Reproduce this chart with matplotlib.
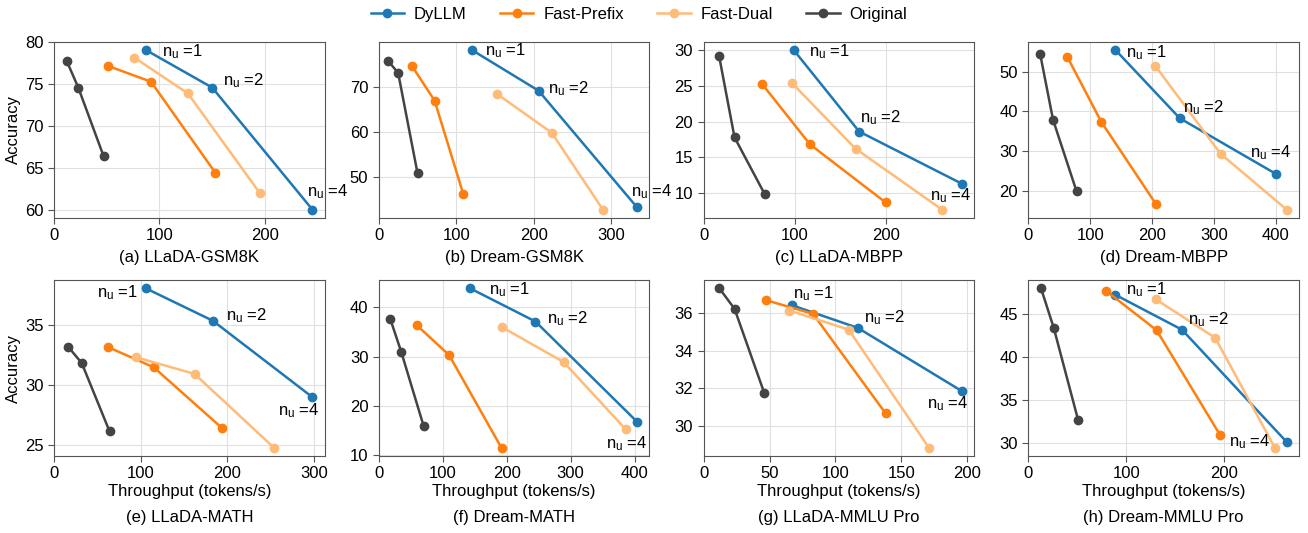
import matplotlib
matplotlib.use('Agg')
import matplotlib.pyplot as plt

plt.rcParams['font.family'] = ['Liberation Sans', 'DejaVu Sans']
plt.rcParams['mathtext.fontset'] = 'custom'
plt.rcParams['mathtext.rm'] = 'Liberation Sans'
plt.rcParams['mathtext.default'] = 'regular'

methods = ['DyLLM', 'Fast-Prefix', 'Fast-Dual', 'Original']
colors = {'DyLLM': '#1f77b4', 'Fast-Prefix': '#ff7f0e', 'Fast-Dual': '#ffbb78', 'Original': '#444444'}
titles = ['(a) LLaDA-GSM8K', '(b) Dream-GSM8K', '(c) LLaDA-MBPP', '(d) Dream-MBPP',
          '(e) LLaDA-MATH', '(f) Dream-MATH', '(g) LLaDA-MMLU Pro', '(h) Dream-MMLU Pro']
nu_labels = ['1', '2', '4']

# throughput (tokens/s) per panel, per method
thr_dyllm = [[87, 150, 245], [120, 206, 333], [99, 171, 284], [141, 245, 400],
             [106, 183, 298], [143, 245, 404], [67, 117, 196], [89, 157, 264]]
acc_dyllm = [[79.1, 74.6, 60.0], [78.1, 69.1, 43.3], [30.0, 18.6, 11.3], [55.4, 38.3, 24.4],
             [38.1, 35.4, 29.0], [43.8, 37.1, 16.8], [36.44, 35.23, 31.85], [47.2, 43.15, 30.1]]
thr_prefix = [[51, 92, 153], [43, 72, 109], [64, 117, 200], [63, 118, 206],
              [62, 115, 194], [59, 110, 192], [47, 83, 138], [79, 131, 196]]
acc_prefix = [[77.2, 75.3, 64.4], [74.5, 66.9, 46.2], [25.3, 16.8, 8.7], [53.7, 37.4, 16.9],
              [33.2, 31.5, 26.4], [36.4, 30.3, 11.5], [36.72, 35.98, 30.67], [47.7, 43.1, 30.9]]
thr_dual = [[76, 127, 195], [153, 223, 289], [97, 167, 262], [205, 311, 418],
            [94, 162, 254], [192, 289, 386], [65, 110, 171], [130, 191, 252]]
acc_dual = [[78.2, 73.9, 62.0], [68.3, 59.8, 42.8], [25.4, 16.2, 7.7], [51.5, 29.4, 15.4],
            [32.35, 30.95, 24.75], [36.0, 28.9, 15.3], [36.16, 35.14, 28.82], [46.7, 42.2, 29.4]]
thr_orig = [[12, 23, 47], [12.5, 25, 50], [17, 34, 67], [19, 40, 78],
            [16.5, 32, 64], [18, 35, 70], [12, 23.5, 46], [13, 26, 51]]
acc_orig = [[77.8, 74.6, 66.4], [75.6, 73.0, 50.8], [29.2, 17.8, 9.9], [54.5, 37.9, 20.0],
            [33.2, 31.85, 26.15], [37.6, 31.0, 16.0], [37.34, 36.25, 31.76], [47.95, 43.35, 32.6]]

series = {'DyLLM': (thr_dyllm, acc_dyllm), 'Fast-Prefix': (thr_prefix, acc_prefix),
          'Fast-Dual': (thr_dual, acc_dual), 'Original': (thr_orig, acc_orig)}

# label offsets in pixels (dx, dy) for n_u = 1, 2, 4 on DyLLM points
label_offsets = [[(16, -2), (11, 7), (-5, 18)],
                 [(13, -1), (9, 2), (-6, 16)],
                 [(15, -2), (1, 14), (-32, -12)],
                 [(11, -3), (3, 11), (-26, 21)],
                 [(-8, -4), (13, 5), (-34, -13)],
                 [(19, -1), (12, 3), (-31, -22)],
                 [(1, 12), (6, 10), (-35, -12)],
                 [(11, 5), (6, 10), (-58, 0)]]

fs = 12
fig, axes = plt.subplots(2, 4, figsize=(13.08, 5.33), dpi=100)
fig.subplots_adjust(left=0.0413, right=0.9931, top=0.9212, bottom=0.1445, wspace=0.2, hspace=0.358)

for i, ax in enumerate(axes.flat):
    for m in methods:
        x, y = series[m]
        ax.plot(x[i], y[i], '-o', color=colors[m], lw=1.8, ms=6, label=m, zorder=3)
    ax.set_xlim(left=0)
    ax.grid(True, color='#e0e0e0', lw=0.8, zorder=0)
    ax.set_axisbelow(True)
    for s in ax.spines.values():
        s.set_color('#555555')
    ax.tick_params(labelsize=fs, colors='black', length=4, color='#555555')
    for j in range(3):
        dx, dy = label_offsets[i][j]
        ha = 'right' if (i == 4 and j == 0) else 'left'
        ax.annotate('n$_u$ =' + nu_labels[j], (thr_dyllm[i][j], acc_dyllm[i][j]),
                    xytext=(dx, dy), textcoords='offset pixels', ha=ha, va='center',
                    fontsize=fs, annotation_clip=False, zorder=4)
    row = i // 4
    if row == 1:
        ax.set_xlabel('Throughput (tokens/s)', fontsize=fs, labelpad=2)
        ax.text(0.5, -0.35, titles[i], transform=ax.transAxes, ha='center', va='center', fontsize=fs)
    else:
        ax.text(0.5, -0.227, titles[i], transform=ax.transAxes, ha='center', va='center', fontsize=fs)
    if i % 4 == 0:
        ax.set_ylabel('Accuracy', fontsize=fs, labelpad=3)

handles, labels = axes[0, 0].get_legend_handles_labels()
fig.legend(handles, labels, loc='upper center', bbox_to_anchor=(0.4885, 1.015), ncol=4,
           frameon=False, fontsize=fs, columnspacing=2.0, handlelength=2.0, handletextpad=0.6)

fig.savefig('out.png', dpi=100)
